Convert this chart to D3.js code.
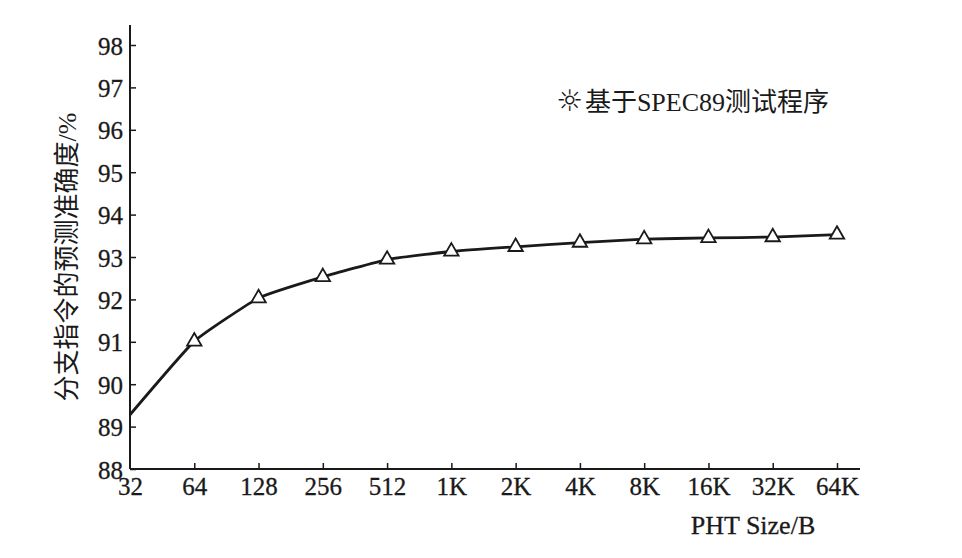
<!DOCTYPE html>
<html>
<head>
<meta charset="utf-8">
<script src="https://cdn.jsdelivr.net/npm/d3@7"></script>
<style>
  html, body { margin: 0; padding: 0; background: #fff; }
  svg { display: block; }
  text { font-family: "Liberation Serif", "Noto Sans CJK SC", serif; fill: #1a1a1a; }
</style>
</head>
<body>
<svg id="chart" width="962" height="558"></svg>
<script>
// ---- data ----
const categories = ["32", "64", "128", "256", "512", "1K", "2K", "4K", "8K", "16K", "32K", "64K"];
const accuracy = [89.28, 91.01, 92.03, 92.53, 92.94, 93.13, 93.24, 93.34, 93.42, 93.45, 93.47, 93.53];
const showMarker = [false, true, true, true, true, true, true, true, true, true, true, true];
const yTicks = [88, 89, 90, 91, 92, 93, 94, 95, 96, 97, 98];
const yLabel = "分支指令的预测准确度/%";
const xLabel = "PHT Size/B";
const legendMarker = "☼";
const legendLabel = "基于SPEC89测试程序";

// ---- layout ----
const svg = d3.select("#chart");
const x0 = 130, x1 = 837, xAxisEnd = 860;
const yBottom = 469, yTop98 = 45, yAxisTop = 25;

const x = d3.scalePoint().domain(categories).range([x0, x1]);
const y = d3.scaleLinear().domain([88, 98]).range([yBottom, yTop98]);

const ink = "#1a1a1a";

// y axis
const yAxis = svg.append("g").attr("transform", `translate(${x0},0)`)
  .call(d3.axisLeft(y).tickValues(yTicks).tickSizeInner(-6).tickSizeOuter(0).tickPadding(7).tickFormat(d3.format("d")));
yAxis.select(".domain").remove();
yAxis.selectAll(".tick line").attr("stroke", ink).attr("stroke-width", 1.5);
yAxis.selectAll(".tick text").attr("font-size", 25).attr("dy", "0.36em").attr("fill", ink)
  .attr("stroke", ink).attr("stroke-width", 0.3);
svg.append("line").attr("x1", x0).attr("x2", x0).attr("y1", yAxisTop).attr("y2", yBottom)
  .attr("stroke", ink).attr("stroke-width", 2);

// x axis
const xAxis = svg.append("g").attr("transform", `translate(0,${yBottom})`)
  .call(d3.axisBottom(x).tickSizeInner(-6).tickSizeOuter(0).tickPadding(8));
xAxis.select(".domain").remove();
xAxis.selectAll(".tick line").attr("stroke", ink).attr("stroke-width", 1.5);
xAxis.selectAll(".tick text").attr("font-size", 25).attr("dy", "0.71em").attr("fill", ink)
  .attr("stroke", ink).attr("stroke-width", 0.3);
xAxis.selectAll(".tick").filter(d => d === "32").select("line").remove();
svg.append("line").attr("x1", x0).attr("x2", xAxisEnd).attr("y1", yBottom).attr("y2", yBottom)
  .attr("stroke", ink).attr("stroke-width", 2);

// axis labels
svg.append("text").attr("x", 753).attr("y", 534).attr("text-anchor", "middle")
  .attr("font-size", 26).attr("stroke", ink).attr("stroke-width", 0.3).text(xLabel);
svg.append("text").attr("transform", `translate(76,257) rotate(-90)`).attr("text-anchor", "middle")
  .attr("font-size", 26).text(yLabel);

// line
const pts = categories.map((c, i) => ({ c, v: accuracy[i], m: showMarker[i] }));
const line = d3.line().x(d => x(d.c)).y(d => y(d.v)).curve(d3.curveCardinal.tension(0.6));
svg.append("path").datum(pts).attr("d", line)
  .attr("fill", "none").attr("stroke", ink).attr("stroke-width", 2.8);

// markers
const tri = d3.symbol().type(d3.symbolTriangle).size(90);
svg.append("g").selectAll("path").data(pts.filter(d => d.m)).join("path")
  .attr("d", tri)
  .attr("transform", d => `translate(${x(d.c)},${y(d.v)})`)
  .attr("fill", "#fff").attr("stroke", ink).attr("stroke-width", 1.8);

// legend
const leg = svg.append("text").attr("x", 556).attr("y", 111).attr("font-size", 26);
leg.append("tspan").attr("font-size", 30).attr("font-family", "DejaVu Sans").text(legendMarker);
leg.append("tspan").attr("dx", 2).text(legendLabel);
</script>
</body>
</html>
